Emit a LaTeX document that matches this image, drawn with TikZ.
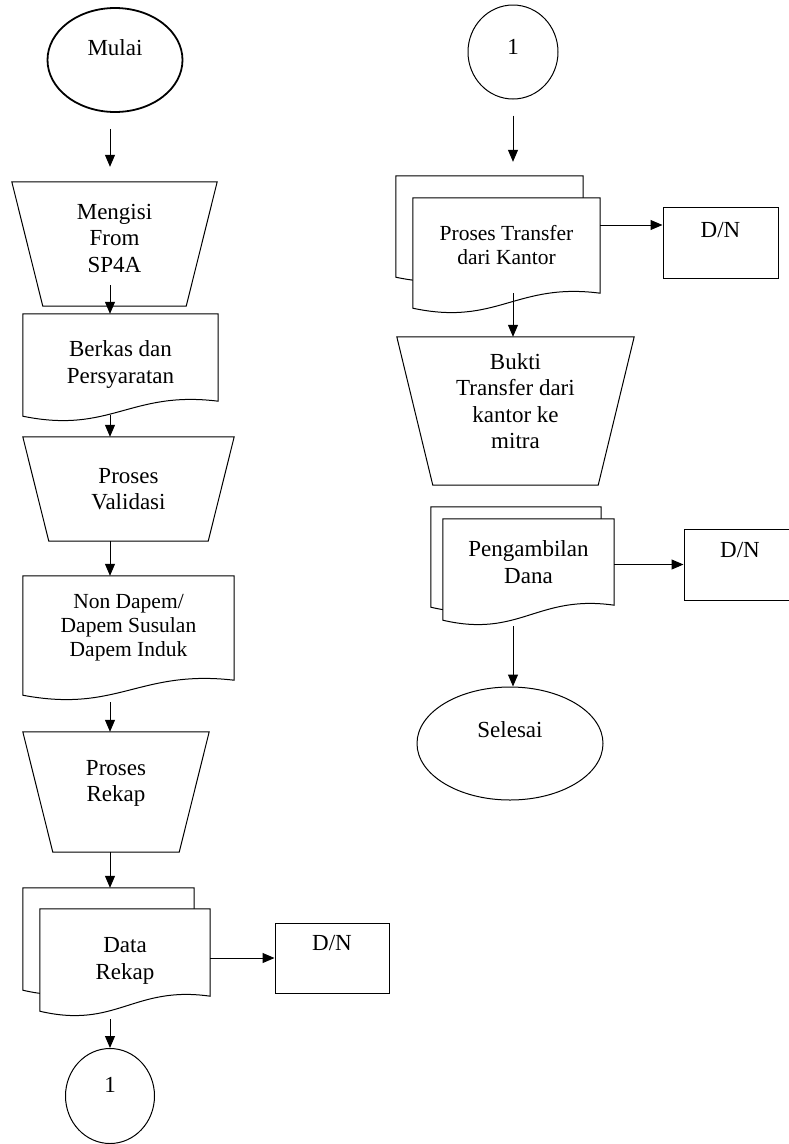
\documentclass[tikz,border=0pt]{standalone}
\usepackage{fontspec}
\setmainfont{Liberation Serif}
\usetikzlibrary{shapes.geometric,arrows.meta,calc,backgrounds}

\tikzset{
	flowline/.style={line width=1pt},
	arr/.style={flowline,-{Triangle[length=12pt,width=10pt]}},
	shapebox/.style 2 args={rectangle,minimum width=#1,minimum height=#2,inner sep=0pt,align=center},
	term/.style 2 args={ellipse,draw,flowline,minimum width=#1,minimum height=#2,inner sep=0pt},
	dnbox/.style 2 args={rectangle,draw,flowline,minimum width=#1,minimum height=#2,inner sep=0pt},
	smalltext/.style={font=\fontsize{21.5}{24}\selectfont}
}

% document symbol drawn round a node
\newcommand{\docline}[1]{%
	\begin{pgfonlayer}{background}
	\filldraw[flowline,fill=white] ([yshift=-15pt]#1.south west) -- (#1.north west) -- (#1.north east) -- (#1.south east)
		.. controls ($(#1.south east)!0.45!(#1.south west)+(0pt,11pt)$) and ($(#1.south west)!0.45!(#1.south east)+(0pt,-33pt)$) .. ([yshift=-15pt]#1.south west) -- cycle;
	\end{pgfonlayer}}
% manual operation symbol drawn round a node
\newcommand{\trapline}[2]{%
	\begin{pgfonlayer}{background}
	\draw[flowline] (#1.north west) -- (#1.north east) -- ([xshift=-#2]#1.south east) -- ([xshift=#2]#1.south west) -- cycle;
	\end{pgfonlayer}}

\begin{document}
\begin{tikzpicture}[x=1pt,y=-1pt,font=\fontsize{23}{26.5}\selectfont]
	\useasboundingbox (0,0) rectangle (789,1144);
	\clip (0,0) rectangle (789,1144);

	% left column
	\node[term={135pt}{104pt},line width=1.8pt,label={[yshift=12pt]center:Mulai}] (mulai) at (115,60) {};
	\node[shapebox={205pt}{124pt},text depth=12pt] (isi) at (114.5,244) {Mengisi\\From\\SP4A};
	\trapline{isi}{31pt}
	\node[shapebox={195pt}{87pt},text height=56pt] (berkas) at (120.5,357.5) {Berkas dan\\Persyaratan};
	\docline{berkas}
	\node[shapebox={211pt}{104pt}] (valid) at (128.5,489) {Proses\\Validasi};
	\trapline{valid}{26pt}
	\node[shapebox={211pt}{104pt},smalltext] (nondapem) at (128.5,628) {Non Dapem/\\Dapem Susulan\\Dapem Induk};
	\docline{nondapem}
	\node[shapebox={186pt}{120pt},text depth=22pt] (rekap) at (116,792) {Proses\\Rekap};
	\trapline{rekap}{30pt}
	\node[shapebox={171pt}{87pt}] (datarekapb) at (108.5,931.5) {};
	\docline{datarekapb}
	\node[shapebox={170pt}{87pt},text height=58pt] (datarekap) at (125,952.5) {Data\\Rekap};
	\docline{datarekap}
	\node[dnbox={114pt}{70pt},label={[yshift=15pt]center:D/N}] (dna) at (332,958) {};
	\node[term={89pt}{95pt},label={[yshift=11pt]center:1}] (conna) at (110,1096) {};

	% right column
	\node[term={90pt}{94pt},label={[yshift=5pt]center:1}] (connb) at (513,52) {};
	\node[shapebox={187pt}{86pt}] (transferb) at (489.5,219) {};
	\docline{transferb}
	\node[shapebox={187pt}{95pt},smalltext] (transfer) at (506.5,245.5) {Proses Transfer\\dari Kantor};
	\docline{transfer}
	\node[dnbox={115pt}{71pt},label={[yshift=12.5pt]center:D/N}] (dnb) at (720.5,242.5) {};
	\node[shapebox={237pt}{148pt},text depth=20pt] (bukti) at (515.5,411) {Bukti\\Transfer dari\\kantor ke\\mitra};
	\trapline{bukti}{36pt}
	\node[shapebox={170pt}{85pt}] (ambilb) at (516,549.5) {};
	\docline{ambilb}
	\node[shapebox={171pt}{86pt}] (ambil) at (528.5,562) {Pengambilan\\Dana};
	\docline{ambil}
	\node[dnbox={112pt}{71pt},label={[yshift=14.5pt]center:D/N}] (dnc) at (740,564.5) {};
	\node[term={186pt}{113pt},label={[yshift=13.5pt]center:Selesai}] (selesai) at (510,743.5) {};

	% connectors
	\draw[arr] ($(mulai.south -| conna)+(0,16)$) -- ($(isi.north -| conna)+(0,-15)$);
	\draw[arr] ($(isi.south -| conna)+(0,-21)$) -- (berkas.north -| conna);
	\draw[arr] ($(berkas.south -| conna)+(0,14)$) -- (valid.north -| conna);
	\draw[arr] (valid.south -| conna) -- (nondapem.north -| conna);
	\draw[arr] ($(nondapem.south -| conna)+(0,22)$) -- (rekap.north -| conna);
	\draw[arr] (rekap.south -| conna) -- (datarekapb.north -| conna);
	\draw[arr] (datarekap.east |- dna) -- (dna.west);
	\draw[arr] ($(datarekap.south -| conna)+(0,23)$) -- (conna.north);

	\draw[arr] ($(connb.south)+(0,16)$) -- ($(transferb.north -| connb)+(0,-14)$);
	\draw[arr] ($(transfer.east)+(0,-20.5)$) -- ($(dnb.west)+(0,-17.5)$);
	\draw[arr] (transfer.south -| connb) -- (bukti.north -| connb);
	\draw[arr] (ambil.east |- dnc) -- (dnc.west);
	\draw[arr] ($(ambil.south -| connb)+(0,21)$) -- (selesai.north -| connb);
\end{tikzpicture}
\end{document}
